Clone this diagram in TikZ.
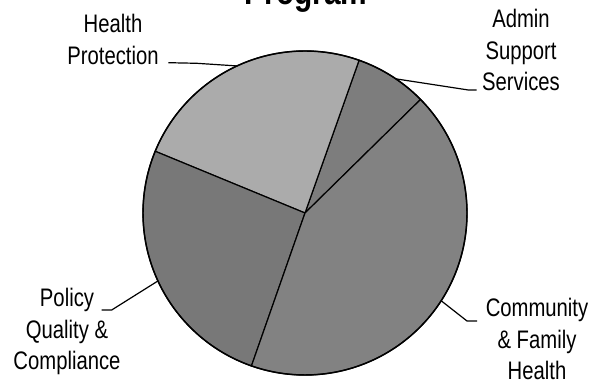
\documentclass[tikz,border=0pt]{standalone}
\usepackage{fontspec}
\setmainfont{Liberation Sans}
\usepackage{tikz}

\definecolor{hpgray}{gray}{0.67}
\definecolor{admingray}{gray}{0.49}
\definecolor{commgray}{gray}{0.51}
\definecolor{polgray}{gray}{0.47}

\newcommand{\lbl}[1]{\scalebox{0.8}[1]{\begin{tabular}{@{}c@{}}#1\end{tabular}}}

\begin{document}
\begin{tikzpicture}[x=0.75pt,y=0.75pt,
  slice/.style={draw=black,line width=0.9pt,line join=round},
  leader/.style={draw=black,line width=0.9pt},
  label/.style={inner sep=0pt,font=\fontsize{19}{23.5}\selectfont}]

  \useasboundingbox (0,0) rectangle (602,384);

  \coordinate (c) at (305,171);

  % slices
  \filldraw[slice,fill=admingray] (c) -- ++(44.5:162) arc (44.5:70.5:162) -- cycle;
  \filldraw[slice,fill=hpgray] (c) -- ++(70.5:162) arc (70.5:157.6:162) -- cycle;
  \filldraw[slice,fill=polgray] (c) -- ++(157.6:162) arc (157.6:250.7:162) -- cycle;
  \filldraw[slice,fill=commgray] (c) -- ++(250.7:162) arc (250.7:404.5:162) -- cycle;
  \draw[line width=1.1pt] (c) circle (162);

  \node[font=\fontsize{28}{32}\selectfont\bfseries,anchor=base] (title) at (306,379) {\scalebox{0.8}[1]{Program}};

  \node[label] (hp) at (113,341.7) {\lbl{Health\\Protection}};
  \node[label] (admin) at (521,331) {\lbl{Admin\\Support\\Services}};
  \node[label] (pol) at (67,52) {\lbl{Policy\\Quality \&\\Compliance}};
  \node[label] (comm) at (537,42) {\lbl{Community\\\& Family\\Health}};

  \path (c) ++(114.8:162) coordinate (hpend);
  \path (c) ++(55.9:162) coordinate (adminend);
  \path (c) ++(204.8:162) coordinate (polend);
  \path (c) ++(-32.8:162) coordinate (commend);

  \coordinate (hpknee) at (196.7,320.7);
  \coordinate (hptip) at (168.3,321.3);
  \coordinate (adminknee) at (468.3,294);
  \coordinate (admintip) at (476.7,294);
  \coordinate (polknee) at (111.7,74);
  \coordinate (poltip) at (101.7,74);
  \coordinate (commknee) at (467,63);
  \coordinate (commtip) at (477,63);

  \draw[leader] (hpend) -- (hpknee) -- (hptip);
  \draw[leader] (adminend) -- (adminknee) -- (admintip);
  \draw[leader] (polend) -- (polknee) -- (poltip);
  \draw[leader] (commend) -- (commknee) -- (commtip);
\end{tikzpicture}
\end{document}
